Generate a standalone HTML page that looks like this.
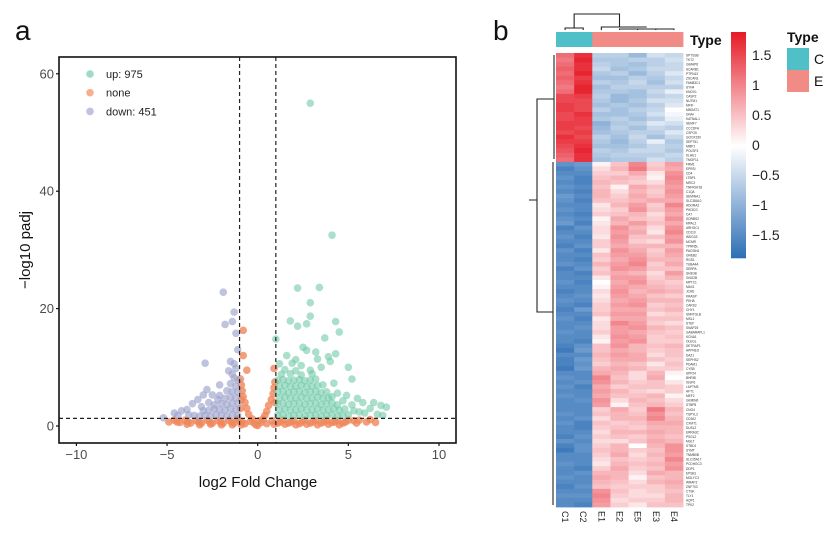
<!DOCTYPE html>
<html><head><meta charset="utf-8"><style>
html,body{margin:0;padding:0;background:#fff;}
svg{display:block;font-family:"Liberation Sans",Arial,sans-serif;}
</style></head><body>
<svg id="fig" width="830" height="533" viewBox="0 0 830 533">
<rect width="830" height="533" fill="#fff"/>
<text x="15" y="40" font-size="28" fill="#111">a</text>
<text x="493" y="40" font-size="28" fill="#111">b</text>
<g id="volcano"></g>
<g id="heat"></g>
</svg>
<script>
// ---------- Volcano data ----------
const xTicks = [-10,-5,0,5,10];
const yTicks = [0,20,40,60];
const upPoints = [
[2.9,55],[4.1,32.5],[2.2,23.5],[3.4,23.6],[2.9,21],[2.9,18.7],[1.8,17.9],[2.7,17.4],[2.2,17],[4.3,17.8],[4.5,16],[1.0,14.8],[3.7,15],[2.5,13.4],[2.7,12.9],[3.2,12.6],[4.3,12.3],[1.6,12],[3.9,11.8],[2.1,11.3],[4.0,11],[3.3,11.4],[1.2,10.6],[1.9,10.7],[2.4,10.3],[5.0,10],[3.5,10],[1.5,9.6],[2.9,9.5],[5.2,8],[4.2,7.3],[4.4,5.6],[4.9,5.2],[5.5,4.7],[5.8,4.0],[6.4,4.0],[6.8,3.5],[7.1,3.2],[6.2,3.0],[5.6,2.4],[6.6,2.0],[5.9,2.2],[6.9,1.8],[5.2,3.6],[4.7,4.3],[5.3,2.6],
[1.1,1.8],[1.4,1.9],[1.7,1.7],[2.0,1.8],[2.3,1.9],[2.6,1.7],[2.9,1.8],[3.2,1.9],[3.5,1.7],[3.8,1.8],[4.1,1.9],[4.4,1.7],[4.7,1.8],[5.0,1.9],
[1.2,2.8],[1.5,2.9],[1.8,2.7],[2.1,2.8],[2.4,2.9],[2.7,2.7],[3.0,2.8],[3.3,2.9],[3.6,2.7],[3.9,2.8],[4.2,2.9],[4.5,2.7],[4.8,2.9],
[1.1,3.8],[1.4,3.9],[1.7,3.7],[2.0,3.8],[2.3,3.9],[2.6,3.7],[2.9,3.8],[3.2,3.9],[3.5,3.7],[3.8,3.8],[4.1,3.9],[4.4,3.6],
[1.2,4.8],[1.5,4.9],[1.8,4.7],[2.1,4.8],[2.4,4.9],[2.7,4.7],[3.0,4.8],[3.3,4.9],[3.6,4.7],[3.9,4.8],[4.1,5.0],
[1.1,5.8],[1.4,5.9],[1.7,5.7],[2.0,5.8],[2.3,5.9],[2.6,5.7],[2.9,5.8],[3.2,5.9],[3.5,5.7],[3.8,5.8],
[1.2,6.8],[1.5,6.9],[1.8,6.7],[2.1,6.8],[2.4,6.9],[2.7,6.7],[3.0,6.8],[3.3,6.9],[3.6,7.0],
[1.1,7.8],[1.4,7.9],[1.7,7.7],[2.0,7.8],[2.3,7.9],[2.6,7.7],[2.9,7.8],[3.2,8.0],
[1.3,8.8],[1.8,8.9],[2.4,8.7],[3.0,8.9],[2.1,9.4]
];
const downPoints = [
[-1.9,22.8],[-1.3,19.4],[-1.4,17.8],[-1.8,17.3],[-1.2,15.8],[-1.1,13],[-2.9,10.7],[-1.5,11],[-1.3,10.6],[-1.6,9.4],[-1.4,8.8],[-1.2,9.8],[-2.1,7],[-2.8,6.2],[-3.0,5.3],[-2.5,5.3],[-3.3,4.5],[-2.2,4.5],[-3.6,3.8],[-3.9,2.8],[-4.2,2.6],[-4.6,2.2],[-5.2,1.4],[-4.4,1.8],[-3.1,3.3],
[-1.1,1.8],[-1.4,1.9],[-1.7,1.7],[-2.0,1.8],[-2.3,1.9],[-2.6,1.7],[-2.9,1.8],[-3.2,1.7],[-3.5,1.8],[-3.8,1.9],
[-1.2,2.8],[-1.5,2.9],[-1.8,2.7],[-2.1,2.8],[-2.4,2.9],[-2.7,2.7],[-3.0,2.6],
[-1.1,3.8],[-1.4,3.9],[-1.7,3.7],[-2.0,3.8],[-2.4,3.6],[-2.7,4.0],
[-1.2,4.8],[-1.5,4.9],[-1.8,4.7],[-2.1,5.2],
[-1.1,5.8],[-1.4,5.9],[-1.7,6.0],
[-1.2,6.8],[-1.5,7.2],[-1.1,7.8],[-1.3,8.2]
];
const nonePoints = [
[-0.8,16.3],[-0.8,12],[-0.6,9.5],[0.9,9.8],[-0.95,8],[-0.9,7],[-0.85,6],[-0.8,5],[-0.7,4],[-0.6,3],[-0.5,2],[-0.9,4.5],[-0.95,3],[0.95,7.5],[0.9,6.5],[0.85,5.5],[0.75,4.5],[0.6,3.5],[0.5,2.5],[0.4,1.8],[0.95,4],[0.3,1.2],[-0.3,1.2],[5.3,0.9],[6.0,0.7],[6.5,0.6],[5.6,1.0],[6.2,1.1],
[-4.9,0.7],[-4.6,1.0],[-4.3,0.6],[-4.0,1.0],[-3.7,0.5],[-3.4,0.9],[-3.1,0.5],[-2.8,1.0],[-2.5,0.5],[-2.2,0.9],[-1.9,0.5],[-1.6,1.0],[-1.3,0.5],[-1.0,0.9],[-0.7,0.4],[-0.4,0.8],[-0.1,0.2],[0.2,0.6],[0.5,0.4],[0.8,0.9],[1.1,0.5],[1.4,1.0],[1.7,0.5],[2.0,0.9],[2.3,0.4],[2.6,1.0],[2.9,0.5],[3.2,0.9],[3.5,0.5],[3.8,1.0],[4.1,0.6],[4.4,0.9],[4.7,0.5],[5.0,1.0],
[-3.9,0.3],[-3.2,0.2],[-2.6,0.3],[-2.0,0.2],[-1.4,0.2],[-0.9,0.2],[0,0.1],[0.9,0.3],[1.5,0.3],[2.1,0.2],[2.7,0.3],[3.3,0.2],[3.9,0.3],[4.5,0.2],[-1.1,1.2],[0.1,0.9],[-0.2,0.5],
[-4.45,0.7],[-3.85,0.7],[-3.25,0.7],[-2.65,0.7],[-2.05,0.7],[-1.45,0.7],[-0.85,0.6],[1.25,0.7],[1.85,0.7],[2.45,0.7],[3.05,0.7],[3.65,0.7],[4.25,0.7],[4.85,0.7],[5.45,0.5]
];
const fcCut = 1;
const padjCut = 1.3;
const legendLabels = ["up: 975","none","down: 451"];

// ---------- Heatmap data ----------
const sampleNames = ["C1","C2","E1","E2","E5","E3","E4"];
const sampleTypes = ["C","C","E","E","E","E","E"];
const heatValues = [
[1.2,1.7,-0.6,-0.6,-0.9,-0.4,-0.5],[1.1,1.8,-0.7,-0.7,-0.6,-0.6,-0.4],[1.2,1.7,-0.6,-0.7,-0.8,-0.6,-0.5],[1.3,1.7,-0.5,-0.8,-0.7,-0.5,-0.5],
[1.2,1.8,-0.7,-0.6,-0.9,-0.6,-0.3],[1.3,1.6,-0.8,-0.8,-0.6,-0.7,-0.5],[1.2,1.7,-0.6,-0.7,-0.5,-0.8,-0.4],[1.1,1.8,-0.8,-0.6,-0.6,-0.6,-0.6],
[1.2,1.8,-0.7,-0.7,-0.8,-0.5,-0.2],[1.5,1.6,-0.6,-0.9,-0.8,-0.6,-0.5],[1.5,1.5,-0.7,-0.9,-0.7,-0.4,-0.4],[1.6,1.5,-0.8,-0.7,-0.8,-0.6,-0.3],
[1.6,1.5,-0.6,-0.8,-0.6,-0.5,0.0],[1.5,1.7,-0.8,-0.8,-0.7,-0.4,-0.1],[1.5,1.6,-0.7,-0.6,-0.8,-0.6,-0.2],[1.6,1.6,-1.0,-0.7,-0.6,-0.3,-0.4],
[1.6,1.5,-0.9,-0.6,-0.8,-0.5,-0.6],[1.5,1.6,-0.8,-0.7,-0.6,-0.6,-0.3],[1.7,1.5,-0.6,-0.8,-0.5,-0.8,-0.5],[1.6,1.6,-0.7,-0.9,-0.6,-0.2,-0.7],
[1.5,1.7,-0.8,-0.8,-0.7,-0.5,-0.6],[1.4,1.8,-0.6,-0.7,-0.5,-0.5,-0.7],[1.3,1.7,-0.7,-0.6,-0.6,-0.6,-0.5],[1.2,1.7,-0.8,-0.7,-0.7,-0.4,-0.6],
[-1.4,-1.3,0.1,0.5,1.0,0.4,0.8],[-1.6,-1.4,0.3,0.6,1.1,0.5,0.7],[-1.5,-1.5,0.4,0.4,0.7,0.2,0.9],[-1.4,-1.6,0.5,0.6,0.5,0.1,1.0],
[-1.5,-1.6,0.6,0.5,0.4,0.3,0.9],[-1.4,-1.5,0.5,0.1,0.7,0.5,0.8],[-1.5,-1.6,0.6,0.3,0.6,0.4,0.9],[-1.3,-1.5,0.6,0.4,0.7,0.5,0.8],
[-1.4,-1.6,0.5,0.5,0.6,0.7,0.7],[-1.5,-1.5,0.2,0.6,0.8,0.4,1.0],[-1.4,-1.5,0.3,0.4,0.9,0.5,0.8],[-1.5,-1.6,0.4,0.5,0.6,0.3,0.7],
[-1.4,-1.5,0.1,0.7,0.5,0.4,0.9],[-1.3,-1.6,0.2,0.6,0.8,0.5,0.7],[-1.6,-1.4,0.3,0.9,0.6,0.3,0.9],[-1.5,-1.5,0.3,0.8,0.7,0.2,1.0],
[-1.4,-1.6,0.2,0.9,0.5,0.5,0.8],[-1.5,-1.5,0.4,0.8,0.4,0.3,0.9],[-1.6,-1.4,0.4,0.7,0.6,0.6,0.6],[-1.4,-1.6,0.2,0.9,0.7,0.4,0.8],
[-1.5,-1.5,0.5,0.8,0.8,0.5,0.7],[-1.5,-1.6,0.4,0.7,0.9,0.6,0.6],[-1.4,-1.5,0.6,0.8,1.0,0.4,0.7],[-1.6,-1.4,0.4,0.9,0.8,0.5,0.5],
[-1.5,-1.6,0.5,0.7,0.6,0.3,0.8],[-1.5,-1.5,0.2,0.8,0.8,0.4,0.6],[-1.4,-1.6,0.0,0.7,0.9,0.5,0.4],[-1.5,-1.5,0.1,0.8,0.7,0.6,0.5],
[-1.6,-1.5,0.3,0.9,0.6,0.7,0.6],[-1.5,-1.4,0.2,0.8,0.7,0.5,0.4],[-1.4,-1.5,0.3,0.7,0.8,0.6,0.6],[-1.5,-1.6,0.4,0.8,0.9,0.4,0.5],
[-1.6,-1.3,0.4,0.7,0.7,0.5,0.6],[-1.5,-1.5,0.5,0.8,0.8,0.3,0.4],[-1.4,-1.6,0.2,0.7,0.7,0.5,0.5],[-1.5,-1.5,0.3,1.0,0.8,0.4,0.3],
[-1.5,-1.4,0.3,0.8,0.9,0.6,0.5],[-1.4,-1.5,0.4,0.8,0.7,0.5,0.4],[-1.5,-1.5,0.2,0.9,0.8,0.4,0.5],[-1.5,-1.6,0.1,0.8,0.9,0.4,0.4],
[-1.6,-1.4,0.5,0.9,0.6,0.5,0.6],[-1.7,-1.3,0.5,0.7,0.6,0.4,0.5],[-1.5,-1.5,0.6,0.8,0.7,0.3,0.5],[-1.6,-1.3,0.5,0.7,0.7,0.5,0.4],
[-1.6,-1.4,0.4,0.6,0.5,0.2,0.5],[-1.7,-1.3,0.6,0.7,0.6,0.4,0.4],[-1.5,-1.5,0.7,0.6,0.3,0.6,0.1],[-1.4,-1.5,1.0,0.5,0.3,0.7,0.0],
[-1.5,-1.4,0.9,0.6,0.4,0.5,0.2],[-1.4,-1.6,0.7,0.4,0.5,0.5,0.4],[-1.5,-1.5,0.8,0.6,0.4,0.3,0.4],[-1.4,-1.5,0.7,0.5,0.5,0.6,0.1],
[-1.5,-1.4,0.9,0.3,0.6,0.5,0.3],[-1.5,-1.5,0.8,0.1,0.5,0.6,0.4],[-1.5,-1.5,0.4,0.7,0.4,1.1,0.6],[-1.4,-1.5,0.5,0.6,0.5,0.9,0.5],
[-1.5,-1.4,0.3,0.6,0.6,1.0,0.6],[-1.4,-1.6,0.5,0.4,0.5,0.7,0.7],[-1.5,-1.6,0.4,0.5,0.4,0.6,0.6],[-1.5,-1.5,0.3,0.6,0.6,0.7,0.6],
[-1.6,-1.4,0.4,0.5,0.4,0.6,0.5],[-1.4,-1.5,0.3,0.3,0.5,0.7,0.6],[-1.6,-1.4,0.4,0.6,0.0,0.6,0.9],[-1.7,-1.4,0.5,0.6,0.4,0.5,0.9],
[-1.5,-1.5,0.4,0.7,0.3,0.6,0.8],[-1.5,-1.5,0.3,0.5,0.4,0.5,1.0],[-1.4,-1.5,0.2,0.6,0.5,0.6,0.8],[-1.5,-1.6,0.4,0.7,0.4,0.5,0.9],
[-1.5,-1.4,0.6,0.6,0.3,0.7,0.6],[-1.4,-1.5,0.7,0.6,0.1,0.5,0.6],[-1.5,-1.5,0.6,0.5,0.3,0.6,0.7],[-1.6,-1.4,0.5,0.4,0.4,0.4,0.6],
[-1.5,-1.5,0.9,0.5,0.3,0.4,0.5],[-1.4,-1.4,1.0,0.4,0.3,0.3,0.6],[-1.5,-1.5,0.9,0.3,0.4,0.4,0.6],[-1.5,-1.6,0.8,0.4,0.2,0.5,0.5]
];
const geneNames = ["SPTSSB","TKT2","GIMAP8","SCARB1","PTPN13","ZSCAN1","FAM83C1","SYN4","KNOX1","CASP2","NUTM1","MFIF","MBOAT1","GNAI","KATNAL1","SEMF7","CCCDFA","CSPG5","GOOX150","SEPT51","MMP1","POLSF3","KLHE1","TMOF11",
"FRM1","EPRSI","CD4","LTBP1","MRC3","TNFRSF18","C1QA","SEMINA1","SLC38A10","ADORA2","PIK3CG","CA7","SORBS2","MPAL2","ARHGC1","CD110","WDG33","MCMR","TPRN5L","PACSIN1","GREB2","RGS1","TUBA4A","SERPA","SH3GB","GNG2B","MPTC1","MAX1","JCAD","KRASP","PKHA","CARS2","CHY1","SNNTGLB","MSL1","STEF","SNAP25","GABARAPL1","KCNA1","OLEGL","DETRAP1","APPNEO","DAZ1","SEPHS2","PDAM1","CYSB","SPP24","BHRIB","IGSF6","LAPTM5","AFT1","MEF2","GEMIN6","STBP8","CNG4","TSPYL2","CD302","CXMT1","DUSL2","ERRA3C","PSGL2","MGLT","STBD1","SYMT","TNMB0B","SLC25A17","PCDHGC3","DDP1","EPSB1","MGLYC3","WRAP2","ZNF703","CTSK","TLY1","AQP1","TPK2"];

const NS='http://www.w3.org/2000/svg';
function mk(tag, attrs, parent){const e=document.createElementNS(NS,tag);for(const k in attrs)e.setAttribute(k,attrs[k]);parent.appendChild(e);return e;}

// ---------- Volcano ----------
const V=document.getElementById('volcano');
const px0=59,px1=456,py0=57,py1=443;
const sx=v=>257.7+v*18.13;
const sy=v=>426-v*5.87;
const clip=mk('clipPath',{id:'vclip'},V);
mk('rect',{x:px0,y:py0,width:px1-px0,height:py1-py0},clip);
const pts=mk('g',{'clip-path':'url(#vclip)'},V);


function drawPts(arr,color,op,name){
  arr.forEach(p=>{
    const c=mk('circle',{cx:sx(p[0]),cy:sy(p[1]),r:3.8,fill:color,'fill-opacity':op},pts);
    
    
  });
}
drawPts(nonePoints,'#f0875b',0.8,'point-none');
drawPts(downPoints,'#9da3cd',0.65,'point-down');
drawPts(upPoints,'#6fcaa9',0.6,'point-up');
let l=mk('line',{x1:sx(-fcCut),x2:sx(-fcCut),y1:py0,y2:py1,stroke:'#222','stroke-width':1.2,'stroke-dasharray':'4,3'},V);


l=mk('line',{x1:sx(fcCut),x2:sx(fcCut),y1:py0,y2:py1,stroke:'#222','stroke-width':1.2,'stroke-dasharray':'4,3'},V);


l=mk('line',{x1:px0,x2:px1,y1:sy(padjCut),y2:sy(padjCut),stroke:'#222','stroke-width':1.2,'stroke-dasharray':'4,3'},V);


const frame=mk('rect',{x:px0,y:py0,width:px1-px0,height:py1-py0,fill:'none',stroke:'#111','stroke-width':1.6},V);


xTicks.forEach(t=>{
  const tk=mk('line',{x1:sx(t),x2:sx(t),y1:py1,y2:py1+3,stroke:'#111','stroke-width':1.2},V);
  
  
  const tx=mk('text',{x:sx(t),y:py1+16,'font-size':13,fill:'#4d4d4d','text-anchor':'middle'},V);
  tx.textContent=t<0?'\u2212'+(-t):t;
  
  
});
yTicks.forEach(t=>{
  const tk=mk('line',{x1:px0-3,x2:px0,y1:sy(t),y2:sy(t),stroke:'#111','stroke-width':1.2},V);
  
  
  const tx=mk('text',{x:px0-5,y:sy(t)+4.5,'font-size':13,fill:'#4d4d4d','text-anchor':'end'},V);
  tx.textContent=t;
  
  
});
let tt=mk('text',{x:258,y:487,'font-size':15,fill:'#111','text-anchor':'middle'},V);
tt.textContent='log2 Fold Change';


tt=mk('text',{x:0,y:0,'font-size':15,fill:'#111','text-anchor':'middle',transform:'translate(30,250) rotate(-90)'},V);
tt.textContent='\u2212log10 padj';


const legCols=['#9fdcc7','#f7b08f','#bfc2e0'];
legendLabels.forEach((s,i)=>{
  const g=mk('g',{},V);
  
  
  mk('circle',{cx:90,cy:74+i*18.7,r:3.8,fill:legCols[i]},g);
  const t=mk('text',{x:106,y:78+i*18.7,'font-size':11,fill:'#222'},g);
  t.textContent=s;
});

// ---------- Heatmap ----------
const H=document.getElementById('heat');
const hx0=556,hx1=683,hy0=53,hy1=507;
const cw=(hx1-hx0)/sampleNames.length;
const rh=(hy1-hy0)/heatValues.length;
function lerp(a,b,t){return Math.round(a+(b-a)*t);}
function col(v){
  const lo=[43,109,181],mid=[255,255,255],hi=[230,27,40];
  let t=Math.max(-1.88,Math.min(1.88,v))/1.88;
  const a=mid,b=t<0?lo:hi; t=Math.abs(t);
  return 'rgb('+lerp(a[0],b[0],t)+','+lerp(a[1],b[1],t)+','+lerp(a[2],b[2],t)+')';
}
const cells=mk('g',{},H);


heatValues.forEach((row,i)=>{
  row.forEach((v,j)=>{
    const r=mk('rect',{x:hx0+j*cw,y:hy0+i*rh,width:cw+0.4,height:rh+0.4,fill:col(v)},cells);
    
    
  });
  const g=mk('text',{x:hx1+3,y:hy0+i*rh+rh*0.8,'font-size':3.2,fill:'#333'},H);
  g.textContent=geneNames[i%geneNames.length];
  
  
});
sampleTypes.forEach((t,j)=>{
  const r=mk('rect',{x:hx0+j*cw,y:32,width:cw+0.4,height:15,fill:t==='C'?'#4fbfc8':'#f08b86'},H);
  
  
  const tx=mk('text',{x:0,y:0,'font-size':9,fill:'#222',transform:'translate('+(hx0+j*cw+cw/2-3)+',511) rotate(90)'},H);
  tx.textContent=sampleNames[j];
  
  
});
tt=mk('text',{x:690,y:45,'font-size':14,'font-weight':'bold',fill:'#111'},H);
tt.textContent='Type';


const cx=j=>hx0+j*cw+cw/2;
const dend=mk('path',{fill:'none',stroke:'#222','stroke-width':1.1,d:
 'M'+cx(0)+' 30V28H'+cx(1)+'V30 '+
 'M'+cx(2)+' 30V27H'+(cx(3)+cx(6))/2+' '+
 'M'+cx(3)+' 30V29H'+cx(6)+'V30 M'+cx(4)+' 30V29 M'+cx(5)+' 30V29 '+
 'M'+(cx(0)+cx(1))/2+' 28V14H'+(cx(2)+cx(4))/2+'V27'},H);


const rdend=mk('path',{fill:'none',stroke:'#222','stroke-width':1.1,d:
 'M554 55V159 M554 99H537V312H553 M553 162V505 M529 200H537'},H);


const cbTicks=[1.5,1,0.5,0,-0.5,-1,-1.5];
const cbY=v=>145-v*60;
const cb=mk('g',{},H);


for(let y=32;y<258;y+=2){
  mk('rect',{x:731,y:y,width:15,height:2.3,fill:col((145-y)/60)},cb);
}
cbTicks.forEach(t=>{
  const tx=mk('text',{x:752,y:cbY(t)+5,'font-size':14,fill:'#222'},H);
  tx.textContent=t<0?'\u2212'+(-t):t;
  
  
});
tt=mk('text',{x:787,y:42,'font-size':14,'font-weight':'bold',fill:'#111'},H);
tt.textContent='Type';


[['C','#4fbfc8'],['E','#f08b86']].forEach((e,i)=>{
  const g=mk('g',{},H);
  
  
  mk('rect',{x:787,y:48+i*22,width:22,height:22,fill:e[1]},g);
  const t=mk('text',{x:814,y:64+i*22,'font-size':14,fill:'#111'},g);
  t.textContent=e[0];
});
</script>
</body></html>
